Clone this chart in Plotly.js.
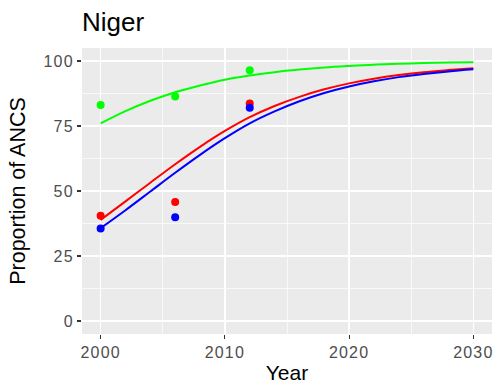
<!DOCTYPE html>
<html>
<head>
<meta charset="utf-8">
<script src="https://cdn.plot.ly/plotly-3.0.1.min.js"></script>
<style>
html,body{margin:0;padding:0;background:#fff;}
#chart{width:499px;height:392px;}
.xtick text, .ytick text{letter-spacing:1.2px;}
</style>
</head>
<body>
<div id="chart"></div>
<script>
// Observed survey points
const obsYears = [2000, 2006, 2012];
const obsGreen = [83.1, 86.3, 96.4];
const obsRed = [40.5, 45.8, 83.7];
const obsBlue = [35.6, 39.9, 82.0];

// Fitted curves
const fitYears = [2000, 2002, 2004, 2006, 2008, 2010, 2012, 2014, 2016, 2018, 2020, 2022, 2024, 2026, 2028, 2030];
const fitGreen = [76.0, 80.7, 84.7, 88.0, 90.6, 92.8, 94.4, 95.7, 96.7, 97.5, 98.1, 98.6, 98.9, 99.2, 99.4, 99.5];
const fitRed   = [38.9, 46.0, 53.2, 60.3, 67.0, 73.1, 78.4, 82.7, 86.2, 89.1, 91.4, 93.2, 94.6, 95.7, 96.5, 97.2];
const fitBlue  = [35.7, 42.6, 49.8, 57.0, 63.9, 70.3, 76.0, 80.6, 84.5, 87.7, 90.2, 92.2, 93.8, 95.0, 96.0, 96.8];

const xTicks = [2000, 2010, 2020, 2030];
const yTicks = [0, 25, 50, 75, 100];

const GREEN = '#00FF00', RED = '#FF0000', BLUE = '#0000FF';
const FONT = 'Liberation Sans, Arial, Helvetica, sans-serif';

function line(y, c) {
  return {x: fitYears, y: y, type: 'scatter', mode: 'lines', line: {color: c, width: 2, shape: 'spline'}, hoverinfo: 'skip'};
}
function pts(y, c) {
  return {x: obsYears, y: y, type: 'scatter', mode: 'markers', marker: {color: c, size: 8}};
}

const data = [
  line(fitGreen, GREEN), line(fitRed, RED), line(fitBlue, BLUE),
  pts(obsGreen, GREEN), pts(obsRed, RED), pts(obsBlue, BLUE)
];

const axisCommon = {
  showline: false, zeroline: false,
  gridcolor: '#FFFFFF', gridwidth: 1.4,
  ticks: 'outside', ticklen: 4, tickwidth: 1.1, tickcolor: '#333333',
  tickfont: {family: FONT, size: 16, color: '#4D4D4D'},
  fixedrange: true
};

const layout = {
  width: 499, height: 392,
  margin: {l: 82, r: 7, t: 48, b: 58},
  paper_bgcolor: '#FFFFFF', plot_bgcolor: '#EBEBEB',
  showlegend: false,
  font: {family: FONT},
  title: {text: 'Niger', font: {family: FONT, size: 26, color: '#000000'},
          x: 0, xref: 'paper', xanchor: 'left', y: 1 - 22/392, yref: 'container', yanchor: 'middle'},
  xaxis: Object.assign({}, axisCommon, {
    range: [1998.5, 2031.5], tickvals: xTicks, ticktext: xTicks.map(String),
    minor: {dtick: 5, tick0: 2000, gridcolor: '#FFFFFF', gridwidth: 0.7, ticks: ''},
    title: {text: 'Year', font: {family: FONT, size: 21, color: '#000000'}, standoff: 5}
  }),
  yaxis: Object.assign({}, axisCommon, {
    range: [-5, 105], tickvals: yTicks, ticktext: yTicks.map(String),
    minor: {dtick: 12.5, tick0: 0, gridcolor: '#FFFFFF', gridwidth: 0.7, ticks: ''},
    title: {text: 'Proportion of ANCS', font: {family: FONT, size: 21.5, color: '#000000'}, standoff: 11}
  })
};

Plotly.newPlot('chart', data, layout, {displayModeBar: false, staticPlot: true});
</script>
</body>
</html>
